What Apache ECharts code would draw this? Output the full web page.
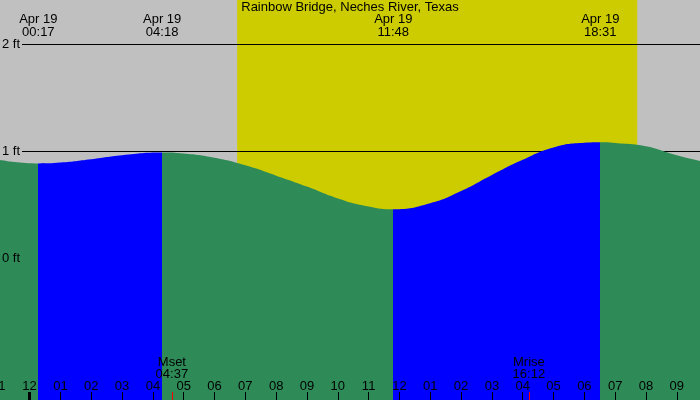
<!DOCTYPE html>
<html><head><meta charset="utf-8">
<script src="https://cdn.jsdelivr.net/npm/echarts@6/dist/echarts.min.js"></script>
<style>html,body{margin:0;padding:0;background:#c0c0c0}#c{width:700px;height:400px}</style>
</head><body><div id="c"></div>
<script>
const chartTitle = 'Rainbow Bridge, Neches River, Texas';
// hours from midnight Apr 19, and water level in feet
const tideHours = [-1, 0.283, 1, 2, 3, 4.3, 5, 6, 7, 8, 9, 10, 11, 11.8, 13, 14, 15, 16, 17, 18, 18.517, 19, 20, 21, 22];
const tideFeet  = [0.920, 0.886, 0.894, 0.925, 0.962, 0.987, 0.978, 0.938, 0.868, 0.772, 0.670, 0.560, 0.485, 0.459, 0.515, 0.628, 0.778, 0.920, 1.035, 1.078, 1.083, 1.077, 1.046, 0.962, 0.893];
const extremeDates = ['Apr 19', 'Apr 19', 'Apr 19', 'Apr 19'];
const extremeTimes = ['00:17', '04:18', '11:48', '18:31'];
const extremeKinds = ['low', 'high', 'low', 'high'];
const moonEvents = ['Mset', 'Mrise'];
const moonTimes = ['04:37', '16:12'];
const sunTimes = ['06:44', '19:43'];
const hourTicks = [-1, 0, 1, 2, 3, 4, 5, 6, 7, 8, 9, 10, 11, 12, 13, 14, 15, 16, 17, 18, 19, 20, 21, 22];
const feetTicks = [0, 1, 2];

const FONT = 'Liberation Sans, Arial, sans-serif';
const GREEN = '#2e8b57', BLUE = '#0000ff', YELLOW = '#cccc00';
const toH = s => { const [h, m] = s.split(':').map(Number); return h + m / 60; };
const extremeHours = extremeTimes.map(toH);
const moonHours = moonTimes.map(toH);
const sunHours = sunTimes.map(toH);
const idxOf = (arr, v) => { let b = 0; arr.forEach((x, i) => { if (Math.abs(x - v) < Math.abs(arr[b] - v)) b = i; }); return b; };
const pad2 = n => (n < 10 ? '0' : '') + n;
const hourLabel = v => { let h = ((Math.round(v) % 12) + 12) % 12; if (h === 0) h = 12; return pad2(h); };

// rising (blue) after a low, falling (green) after a high
const pieces = [];
pieces.push({ lt: extremeHours[0], color: extremeKinds[0] === 'low' ? GREEN : BLUE });
extremeHours.forEach((h, i) => {
  const p = { gte: h, color: extremeKinds[i] === 'low' ? BLUE : GREEN };
  if (i < extremeHours.length - 1) p.lt = extremeHours[i + 1];
  pieces.push(p);
});

const txt = { color: '#000', fontSize: 13, fontFamily: FONT };
const noLine = { show: false, onZero: false };
const chart = echarts.init(document.getElementById('c'), null, { renderer: 'canvas' });
chart.setOption({
  backgroundColor: '#c0c0c0',
  animation: false,
  title: { text: chartTitle, left: 'center', top: 1, padding: 0,
    textStyle: Object.assign({ fontWeight: 'normal', lineHeight: 13 }, txt) },
  grid: [
    { left: -1.22, right: -7.64, top: 0, bottom: 0, outerBoundsMode: 'none', containLabel: false },
    { left: 22, right: 0, top: 43.97, height: 214.5, outerBoundsMode: 'none', containLabel: false }
  ],
  xAxis: [
    { gridIndex: 0, type: 'value', min: -1, max: 22, position: 'bottom', z: 5,
      axisLine: noLine, splitLine: { show: false },
      axisTick: { show: true, inside: true, length: 8, customValues: hourTicks, lineStyle: { color: '#000', width: 1 } },
      axisLabel: Object.assign({ show: true, inside: true, margin: 7.5, lineHeight: 12, customValues: hourTicks, formatter: hourLabel }, txt) },
    { gridIndex: 0, type: 'value', min: -1, max: 22, position: 'bottom', z: 6,
      axisLine: noLine, splitLine: { show: false }, axisLabel: { show: false },
      axisTick: { show: true, inside: true, length: 8, customValues: hourTicks.filter(h => h % 24 === 0), lineStyle: { color: '#000', width: 3 } } },
    { gridIndex: 0, type: 'value', min: -1, max: 22, position: 'bottom', z: 6,
      axisLine: noLine, splitLine: { show: false },
      axisTick: { show: true, inside: true, length: 8, customValues: moonHours, lineStyle: { color: '#ff0000', width: 1 } },
      axisLabel: Object.assign({ show: true, inside: true, margin: 20, lineHeight: 12, customValues: moonHours,
        formatter: v => { const i = idxOf(moonHours, v); return moonEvents[i] + '\n' + moonTimes[i]; } }, txt) },
    { gridIndex: 0, type: 'value', min: -1, max: 22, position: 'top', z: 6,
      axisLine: noLine, splitLine: { show: false }, axisTick: { show: false },
      axisLabel: Object.assign({ show: true, inside: true, margin: 13, lineHeight: 13, customValues: extremeHours,
        formatter: v => { const i = idxOf(extremeHours, v); return extremeDates[i] + '\n' + extremeTimes[i]; } }, txt) },
    { gridIndex: 1, type: 'value', min: 0, max: 1, show: false, axisLine: noLine }
  ],
  yAxis: [
    { gridIndex: 0, type: 'value', min: -1.32, max: 2.41, show: false, axisLine: noLine },
    { gridIndex: 1, type: 'value', min: 0, max: 2, interval: 1, z: 1.5,
      axisLine: noLine, axisTick: { show: false }, axisLabel: { show: false },
      splitLine: { show: true, lineStyle: { color: '#000', width: 1 } } },
    { gridIndex: 1, type: 'value', min: 0, max: 2, interval: 1, z: 6, position: 'left',
      axisLine: noLine, axisTick: { show: false }, splitLine: { show: false },
      axisLabel: Object.assign({ show: true, margin: 2, formatter: v => v + ' ft' }, txt) }
  ],
  visualMap: { type: 'piecewise', show: false, dimension: 0, seriesIndex: 1, pieces: pieces },
  series: [
    { type: 'line', xAxisIndex: 0, yAxisIndex: 0, z: 1, data: [], silent: true,
      markArea: { silent: true, z: 1, itemStyle: { color: YELLOW, opacity: 1 },
        data: [[{ xAxis: sunHours[0] }, { xAxis: sunHours[1] }]] } },
    { type: 'line', xAxisIndex: 0, yAxisIndex: 0, z: 2, silent: true,
      smooth: true, showSymbol: false, symbol: 'none',
      lineStyle: { width: 0, opacity: 0 },
      areaStyle: { origin: 'start', opacity: 1 },
      data: tideHours.map((h, i) => [h, tideFeet[i]]) }
  ]
});
</script></body></html>
